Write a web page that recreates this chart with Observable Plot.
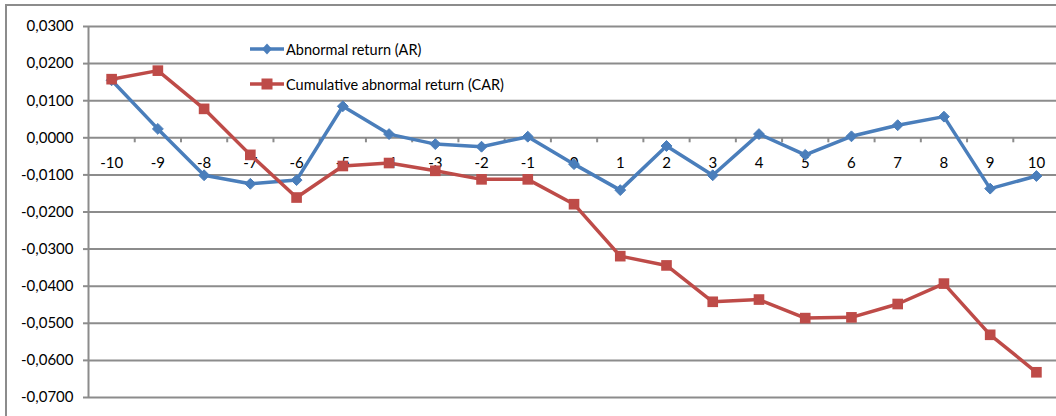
<!DOCTYPE html>
<html>
<head>
<meta charset="utf-8">
<script src="https://cdn.jsdelivr.net/npm/d3@7"></script>
<script src="https://cdn.jsdelivr.net/npm/@observablehq/plot@0.6"></script>
<style>
  html, body { margin: 0; padding: 0; background: #fff; overflow: hidden; }
  #wrap { position: relative; width: 1056px; height: 416px; overflow: hidden; background: #fff; }
  #border { position: absolute; left: 5px; top: 4px; width: 1200px; height: 600px;
            border-left: 2px solid #8c8c8c; border-top: 2px solid #8c8c8c; pointer-events: none; }
  #chart { position: absolute; left: 0; top: 0; }
  .leg { position: absolute; display: flex; align-items: center; font-family: Lato, "Open Sans", sans-serif;
         font-size: 14.5px; color: #000; white-space: nowrap; }
  .leg svg { display: block; margin-right: 2px; }
</style>
</head>
<body>
<div id="wrap">
  <div id="border"></div>
  <div id="chart"></div>
  <div id="legend"></div>
</div>
<script>
// ---- data ----
const days = [-10, -9, -8, -7, -6, -5, -4, -3, -2, -1, 0, 1, 2, 3, 4, 5, 6, 7, 8, 9, 10];
const arValues = [0.0155, 0.0024, -0.0101, -0.0124, -0.0114, 0.0085, 0.0010, -0.0017, -0.0024, 0.0003,
                  -0.0071, -0.0141, -0.0022, -0.0101, 0.0010, -0.0046, 0.0004, 0.0034, 0.0057, -0.0137, -0.0103];
const carValues = [0.0158, 0.0181, 0.0078, -0.0046, -0.0161, -0.0076, -0.0068, -0.0089, -0.0112, -0.0112,
                   -0.0179, -0.0319, -0.0344, -0.0442, -0.0436, -0.0486, -0.0484, -0.0448, -0.0393, -0.0531, -0.0632];
const yTicks = [0.03, 0.02, 0.01, 0, -0.01, -0.02, -0.03, -0.04, -0.05, -0.06, -0.07];
const categoryBoundaries = [-9.5, -8.5, -7.5, -6.5, -5.5, -4.5, -3.5, -2.5, -1.5, -0.5,
                            0.5, 1.5, 2.5, 3.5, 4.5, 5.5, 6.5, 7.5, 8.5, 9.5];
const seriesNames = ["Abnormal return (AR)", "Cumulative abnormal return (CAR)"];
const seriesColors = ["#4a7ebb", "#be4b48"];

const ar = days.map((d, i) => ({day: d, value: arValues[i]}));
const car = days.map((d, i) => ({day: d, value: carValues[i]}));

const W = 1056, H = 416;
const mLeft = 88, mTop = 26, mBottom = 19;
const yMin = -0.07, yMax = 0.03;
const plotH = H - mTop - mBottom;
const tickDepth = (yMax - yMin) * 5 / plotH; // 5px tick marks below the zero axis
const grid = "#8c8c8c";
const fmt = d => (Math.abs(d) < 1e-12 ? 0 : d).toFixed(4).replace(".", ",");

const chart = Plot.plot({
  width: W,
  height: H,
  marginLeft: mLeft,
  marginRight: 0,
  marginTop: mTop,
  marginBottom: mBottom,
  style: {fontFamily: "Lato, 'Open Sans', sans-serif", fontSize: "14px", color: "#000", background: "transparent", overflow: "visible"},
  x: {type: "linear", domain: [-10.5, 10.5], range: [mLeft, mLeft + 21 * 46.24], axis: null},
  y: {type: "linear", domain: [yMin, yMax], axis: null},
  marks: [
    Plot.ruleY(yTicks, {stroke: grid, strokeWidth: 2}),
    Plot.ruleX([-10.5], {stroke: grid, strokeWidth: 2}),
    Plot.axisY(yTicks, {tickSize: 5, tickPadding: 10, tickFormat: fmt, stroke: grid, strokeWidth: 2, fontSize: 15, label: null}),
    Plot.ruleX(categoryBoundaries, {x: d => d, y1: 0, y2: -tickDepth, stroke: grid, strokeWidth: 2}),
    Plot.text(days, {x: d => d, y: 0, dy: 25, text: d => String(d), fill: "#000", fontSize: 15}),
    Plot.line(ar, {x: "day", y: "value", stroke: seriesColors[0], strokeWidth: 3.5, curve: "linear"}),
    Plot.dot(ar, {x: "day", y: "value", symbol: "diamond2", r: 4.9, fill: seriesColors[0], stroke: seriesColors[0], strokeWidth: 1}),
    Plot.line(car, {x: "day", y: "value", stroke: seriesColors[1], strokeWidth: 3.5, curve: "linear"}),
    Plot.dot(car, {x: "day", y: "value", symbol: "square", r: 6.0, fill: seriesColors[1], stroke: "none"})
  ]
});
document.getElementById("chart").appendChild(chart);

// ---- legend (inside the plot area, Excel style) ----
const legend = document.getElementById("legend");
const legendRows = [
  {name: seriesNames[0], color: seriesColors[0], symbol: "diamond", top: 49},
  {name: seriesNames[1], color: seriesColors[1], symbol: "square", top: 84}
];
legendRows.forEach(r => {
  const row = document.createElement("div");
  row.className = "leg";
  row.style.left = "250px";
  row.style.top = (r.top - 10) + "px";
  row.style.height = "20px";
  const sw = 34;
  let marker = r.symbol === "diamond"
    ? `<path d="M${sw/2},4.5 L${sw/2+5},10 L${sw/2},15.5 L${sw/2-5},10 Z" fill="${r.color}"/>`
    : `<rect x="${sw/2-5.5}" y="4.5" width="11" height="11" fill="${r.color}"/>`;
  row.innerHTML = `<svg width="${sw}" height="20"><line x1="0" x2="${sw}" y1="10" y2="10" stroke="${r.color}" stroke-width="3.5"/>${marker}</svg><span>${r.name}</span>`;
  legend.appendChild(row);
});
</script>
</body>
</html>
